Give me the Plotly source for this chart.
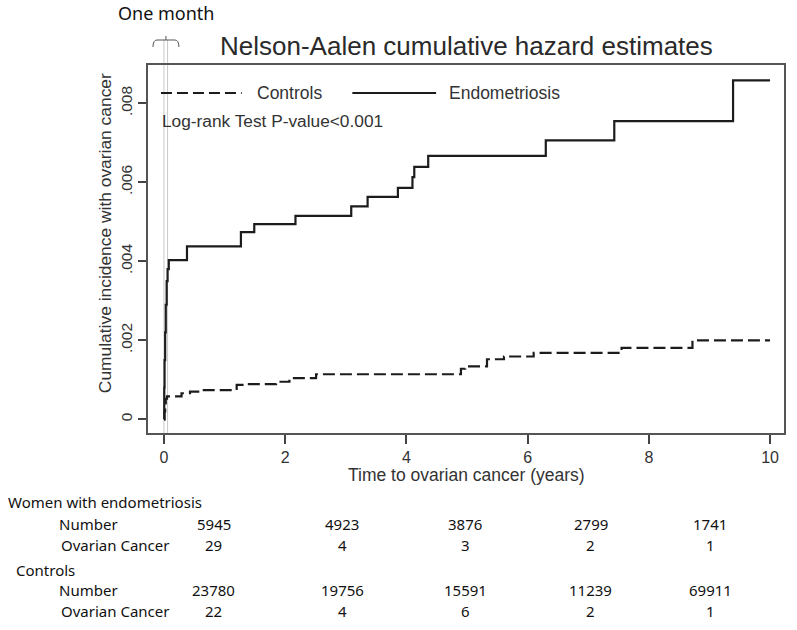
import plotly.graph_objects as go

# ---------------- data ----------------
endo_t = [0, 0.005, 0.01, 0.02, 0.03, 0.045, 0.06, 0.08, 0.38, 1.27, 1.49, 2.17,
          3.09, 3.36, 3.86, 4.10, 4.13, 4.36, 6.30, 7.43, 9.39, 10.0]
endo_v = [0, 0.0008, 0.0015, 0.0022, 0.0029, 0.0035, 0.0038, 0.00403, 0.00438,
          0.00474, 0.00494, 0.00515, 0.00539, 0.00563, 0.00586, 0.00613, 0.00639,
          0.00667, 0.00706, 0.00755, 0.00858, 0.00858]

ctrl_t = [0, 0.01, 0.02, 0.03, 0.05, 0.29, 0.43, 0.62, 1.20, 1.33, 1.85, 2.07,
          2.51, 4.90, 4.97, 5.33, 5.61, 6.10, 7.55, 8.72, 10.0]
ctrl_v = [0, 0.0002, 0.0004, 0.00052, 0.00058, 0.00066, 0.0007, 0.00074, 0.00087,
          0.00089, 0.00095, 0.00104, 0.00114, 0.00128, 0.00134, 0.00152, 0.00159,
          0.00168, 0.00181, 0.00200, 0.00200]

x_ticks = [0, 2, 4, 6, 8, 10]
y_ticks = [0, 0.002, 0.004, 0.006, 0.008]
y_tick_labels = ["0", ".002", ".004", ".006", ".008"]

one_month_lines = [0.0, 0.06]

row_labels = ["Number", "Ovarian Cancer"]
endo_number = ["5945", "4923", "3876", "2799", "1741"]
endo_cancer = ["29", "4", "3", "2", "1"]
ctrl_number = ["23780", "19756", "15591", "11239", "69911"]
ctrl_cancer = ["22", "4", "6", "2", "1"]

# ---------------- layout geometry (pixels) ----------------
W, H = 797, 630
L, R, T, B = 148, 786, 65, 433


def X(px):
    return (px - L) / (R - L)


def Y(py):
    return (B - py) / (B - T)


ink = "#1c1c1c"
txt = "#333333"
sans = "Liberation Sans, Arial, sans-serif"
cal = "Noto Sans, Open Sans, sans-serif"

fig = go.Figure()

fig.add_trace(go.Scatter(x=ctrl_t, y=ctrl_v, mode="lines", line_shape="hv",
                         line=dict(color=ink, width=2.2, dash="12px,5px"),
                         name="Controls", showlegend=False))
fig.add_trace(go.Scatter(x=endo_t, y=endo_v, mode="lines", line_shape="hv",
                         line=dict(color=ink, width=2.2),
                         name="Endometriosis", showlegend=False))

shapes = []
# faint one-month guide lines
for xv in one_month_lines:
    shapes.append(dict(type="line", xref="x", yref="paper", x0=xv, x1=xv,
                       y0=0, y1=Y(40), line=dict(color="#c8c8c8", width=1), layer="below"))
# bracket above the plot
bx0, bx1, by, bm = 153, 179, 40, 166
path = (f"M {X(bx0)},{Y(by+7)} Q {X(bx0)},{Y(by)} {X(bx0+4)},{Y(by)} "
        f"L {X(bx1-4)},{Y(by)} Q {X(bx1)},{Y(by)} {X(bx1)},{Y(by+7)} "
        f"M {X(bm)},{Y(by)} L {X(bm)},{Y(by-4)}")
shapes.append(dict(type="path", xref="paper", yref="paper", path=path,
                   line=dict(color="#555555", width=1)))
# legend samples
shapes.append(dict(type="line", xref="paper", yref="paper", x0=X(161), x1=X(242),
                   y0=Y(93), y1=Y(93), line=dict(color=ink, width=2.2, dash="11px,5px")))
shapes.append(dict(type="line", xref="paper", yref="paper", x0=X(353), x1=X(437),
                   y0=Y(93), y1=Y(93), line=dict(color=ink, width=2.2)))

ann = []


def add_text(text, px, py, size, family=sans, xanchor="left", color=txt, angle=0):
    ann.append(dict(text=text, x=X(px), y=Y(py), xref="paper", yref="paper",
                    xanchor=xanchor, yanchor="middle", showarrow=False,
                    textangle=angle, font=dict(family=family, size=size, color=color)))


add_text("Nelson-Aalen cumulative hazard estimates", 467, 46, 26, xanchor="center", color="#2a2a2a")
add_text("One month", 116, 13, 18, family=cal, color="#111111")
add_text("Controls", 255, 93, 17.5)
add_text("Endometriosis", 448, 93, 17.5)
add_text("Log-rank Test P-value<0.001", 160, 121, 17.3)
add_text("Cumulative incidence with ovarian cancer", 105, 233, 17.4, xanchor="center", angle=-90)
add_text("Time to ovarian cancer (years)", 468, 475, 17.5, xanchor="center")

# risk table
tc = "#111111"
add_text("Women with endometriosis", 6, 502, 15, family=cal, color=tc)
add_text("Controls", 14, 570, 15, family=cal, color=tc)
add_text(row_labels[0], 57, 524, 15, family=cal, color=tc)
add_text(row_labels[1], 59, 545, 15, family=cal, color=tc)
add_text(row_labels[0], 57, 590, 15, family=cal, color=tc)
add_text(row_labels[1], 59, 611, 15, family=cal, color=tc)
col_x = [214, 343, 466, 592, 712]
for cx, a, b, c, d in zip(col_x, endo_number, endo_cancer, ctrl_number, ctrl_cancer):
    add_text(a, cx, 524, 15, family=cal, xanchor="center", color=tc)
    add_text(b, cx, 545, 15, family=cal, xanchor="center", color=tc)
    add_text(c, cx, 590, 15, family=cal, xanchor="center", color=tc)
    add_text(d, cx, 611, 15, family=cal, xanchor="center", color=tc)

# axis ranges from pixel mapping
px_per_year = (772 - 164) / 10.0
x0 = (L - 164) / px_per_year
x1 = (R - 164) / px_per_year
px_per_unit = (419.3 - 103.3) / 0.008
y0 = -(B - 419.3) / px_per_unit
y1 = (419.3 - T) / px_per_unit

fig.update_layout(
    width=W, height=H,
    margin=dict(l=L, r=W - R, t=T, b=H - B, pad=0),
    paper_bgcolor="white", plot_bgcolor="white",
    shapes=shapes, annotations=ann, showlegend=False,
    xaxis=dict(range=[x0, x1], tickvals=x_ticks, ticks="outside", ticklen=9,
               tickcolor="#444444", tickwidth=1.5,
               showline=True, linecolor="#555555", linewidth=1.5, mirror=True,
               showgrid=False, zeroline=False,
               tickfont=dict(family=sans, size=16, color=txt)),
    yaxis=dict(range=[y0, y1], tickvals=y_ticks, ticktext=y_tick_labels,
               tickangle=-90, ticks="outside", ticklen=8,
               tickcolor="#444444", tickwidth=1.5,
               showline=True, linecolor="#555555", linewidth=1.5, mirror=True,
               showgrid=False, zeroline=False,
               tickfont=dict(family=sans, size=15.5, color=txt)),
)

fig.write_html("out.html", config={"displayModeBar": False},
               post_script="document.body.style.margin='0';")
